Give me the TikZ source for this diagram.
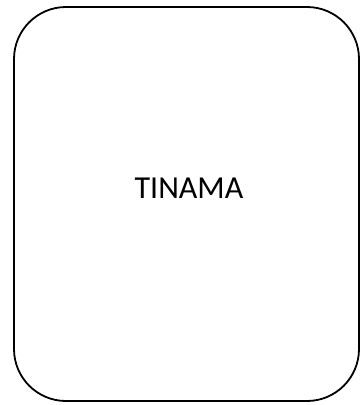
\documentclass[tikz,border=0pt]{standalone}
\usepackage{fontspec}
\setmainfont{Carlito}
\begin{document}
\begin{tikzpicture}[x=1pt,y=-1pt,
  boxstyle/.style={draw=black,line width=1.8pt,rounded corners=52pt,minimum width=345pt,minimum height=394pt,inner sep=0pt},
  lbl/.style={font=\fontsize{32}{38}\selectfont}]
\useasboundingbox (0,0) rectangle (360,405);
\node[boxstyle] (box) at (186.5,204) {};
\node[lbl] (t) at (189,188) {TINAMA};
\end{tikzpicture}
\end{document}
